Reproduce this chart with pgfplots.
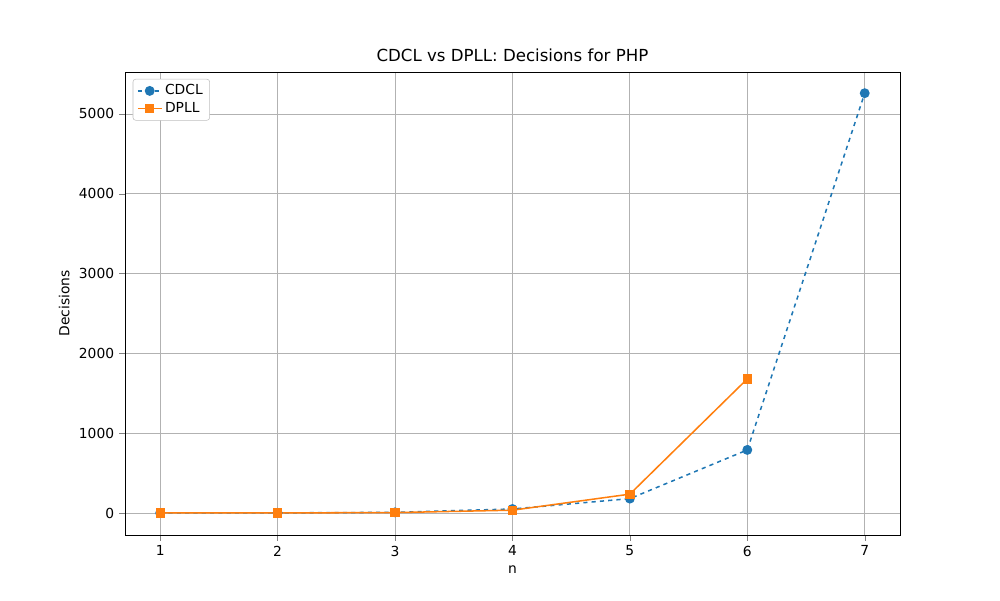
\documentclass[border=0pt]{standalone}
\usepackage{pgfplots}
\pgfplotsset{compat=1.18}
\usepackage{fontspec}
\setmainfont{DejaVu Sans}
\definecolor{c1}{HTML}{1F77B4}
\definecolor{c2}{HTML}{FF7F0E}
\begin{document}
\begin{tikzpicture}
\begin{axis}[
  scale only axis, width=560pt, height=334.6pt,
  xmin=0.7, xmax=7.3, ymin=-276, ymax=5526,
  xtick={1,...,7}, ytick={0,1000,...,5000},
  scaled y ticks=false,
  /pgf/number format/assume math mode=true,
  /pgf/number format/1000 sep={},
  tick label style={font=\fontsize{10}{12}\selectfont},
  grid=major, grid style={color=gray!60, line width=0.6pt},
  tick align=outside, tick pos=left,
  xlabel={n}, ylabel={Decisions},
  label style={font=\fontsize{10}{12}\selectfont},
  title={CDCL vs DPLL: Decisions for PHP},
  title style={font=\fontsize{12}{14}\selectfont, yshift=-2pt},
  legend style={font=\fontsize{10}{12}\selectfont, draw=gray!50, rounded corners=2pt, at={(0.01,0.985)}, anchor=north west},
  legend cell align=left,
]
\addplot[c1, dashed, line width=1.1pt, mark=*, mark size=3pt, mark options={solid}] coordinates {(1,0)(2,1)(3,8)(4,50)(5,180)(6,790)(7,5260)};
\addlegendentry{CDCL}
\addplot[c2, line width=1.1pt, mark=square*, mark size=2.8pt] coordinates {(1,0)(2,1)(3,5)(4,35)(5,236)(6,1680)};
\addlegendentry{DPLL}
\end{axis}
\useasboundingbox ([xshift=-90.3pt,yshift=-47pt]current axis.south west) rectangle ([xshift=72.3pt,yshift=52pt]current axis.north east);
\end{tikzpicture}
\end{document}
